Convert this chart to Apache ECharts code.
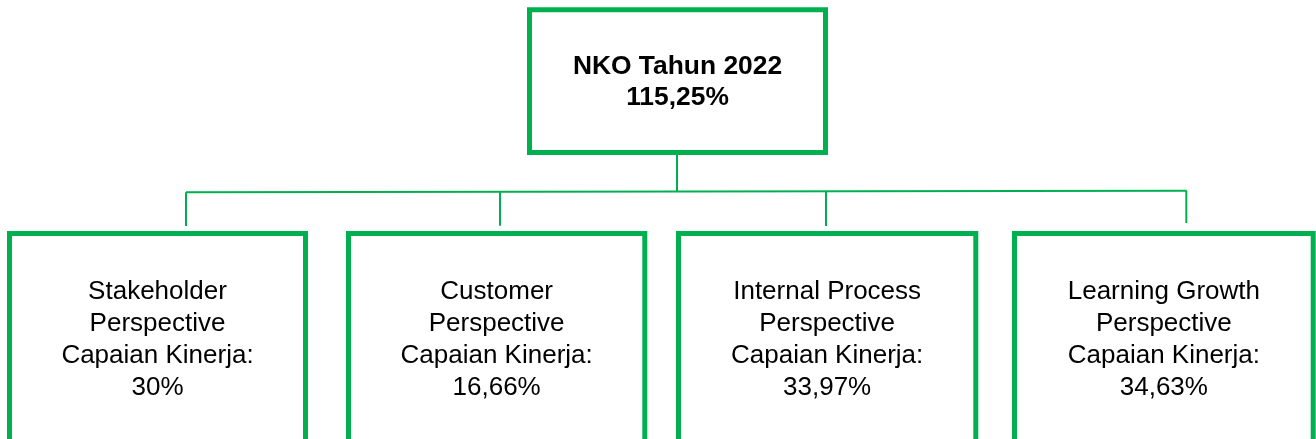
<!DOCTYPE html>
<html><head><meta charset="utf-8">
<script src="https://cdn.jsdelivr.net/npm/echarts@6/dist/echarts.min.js"></script>
<style>html,body{margin:0;padding:0;background:#fff}#c{width:1316px;height:439px}</style>
</head><body><div id="c"></div>
<script>
// ---- content ----
const rootTitle = 'NKO Tahun 2022';
const rootValue = '115,25%';
const perspectiveNames = ['Stakeholder\nPerspective', 'Customer\nPerspective', 'Internal Process\nPerspective', 'Learning Growth\nPerspective'];
const achievementLabel = 'Capaian Kinerja:';
const achievementValues = ['30%', '16,66%', '33,97%', '34,63%'];

// ---- layout (canvas units, 1316 x 439) ----
const rootBox = [529.5, 9.8, 825.5, 152.5, 82];
const childBoxes = [
  [9.5, 233.5, 305.5, 470, 340],
  [348.5, 233.5, 644.8, 470, 340],
  [678.5, 233.5, 975.8, 470, 340],
  [1014.5, 233.5, 1313.2, 470, 340]
];
const connectors = [
  [[677, 154], [677, 191.6]],
  [[186, 192.3], [1186.7, 190.7]],
  [[186, 192.3], [186, 226]],
  [[500, 191.8], [500, 225.7]],
  [[826, 191.2], [826, 226]],
  [[1186.3, 190.7], [1186.3, 223]]
];

const GREEN = '#00B050';
const FONT = '"Liberation Sans", Arial, sans-serif';

const boxData = [rootBox.concat([0])].concat(childBoxes.map(b => b.concat([1])));
const boxTexts = [rootTitle + '\n' + rootValue].concat(
  perspectiveNames.map((n, i) => n + '\n' + achievementLabel + '\n' + achievementValues[i])
);

const chart = echarts.init(document.getElementById('c'), null, {renderer: 'canvas'});
chart.setOption({
  animation: false,
  backgroundColor: '#ffffff',
  grid: {left: 0, right: 0, top: 0, bottom: 0, containLabel: false},
  xAxis: {type: 'value', min: 0, max: 1316, show: false},
  yAxis: {type: 'value', min: 0, max: 439, inverse: true, show: false},
  series: [
    {
      type: 'custom',
      clip: false,
      data: connectors.map(c => [c[0][0], c[0][1], c[1][0], c[1][1]]),
      renderItem: function (params, api) {
        const p0 = api.coord([api.value(0), api.value(1)]);
        const p1 = api.coord([api.value(2), api.value(3)]);
        return {
          type: 'line',
          shape: {x1: p0[0], y1: p0[1], x2: p1[0], y2: p1[1]},
          style: {stroke: GREEN, lineWidth: 2}
        };
      }
    },
    {
      type: 'custom',
      clip: false,
      data: boxData,
      renderItem: function (params, api) {
        const i = params.dataIndex;
        const p0 = api.coord([api.value(0), api.value(1)]);
        const p1 = api.coord([api.value(2), api.value(3)]);
        const ty = api.coord([0, api.value(4)])[1];
        const isRoot = api.value(5) === 0;
        return {
          type: 'group',
          children: [
            {
              type: 'rect',
              shape: {x: p0[0], y: p0[1], width: p1[0] - p0[0], height: p1[1] - p0[1]},
              style: {fill: '#ffffff', stroke: GREEN, lineWidth: 5}
            },
            {
              type: 'text',
              style: {
                text: boxTexts[i],
                x: (p0[0] + p1[0]) / 2,
                y: ty,
                align: 'center',
                verticalAlign: 'middle',
                fill: '#000000',
                font: (isRoot ? 'bold 26.4px ' : '26px ') + FONT,
                lineHeight: isRoot ? 31 : 31.8
              }
            }
          ]
        };
      }
    }
  ]
});
</script>
</body></html>
